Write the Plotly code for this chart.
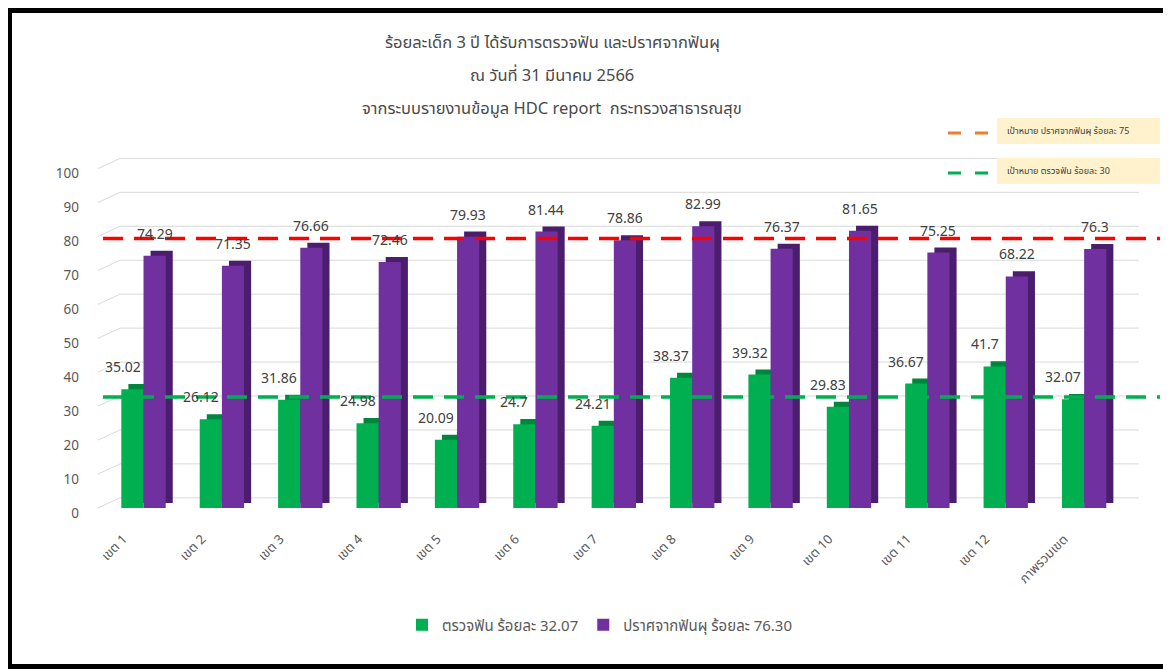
import plotly.graph_objects as go

# ---- data ----
zones = ["เขต 1", "เขต 2", "เขต 3", "เขต 4", "เขต 5", "เขต 6", "เขต 7",
         "เขต 8", "เขต 9", "เขต 10", "เขต 11", "เขต 12", "ภาพรวมเขต"]
checked = [35.02, 26.12, 31.86, 24.98, 20.09, 24.7, 24.21,
           38.37, 39.32, 29.83, 36.67, 41.7, 32.07]
caries_free = [74.29, 71.35, 76.66, 72.46, 79.93, 81.44, 78.86,
               82.99, 76.37, 81.65, 75.25, 68.22, 76.3]
checked_name = "ตรวจฟัน ร้อยละ 32.07"
caries_free_name = "ปราศจากฟันผุ ร้อยละ 76.30"
target_lines = [79.4, 32.7]          # dashed lines as drawn on the chart
target_labels = ["เป้าหมาย ปราศจากฟันผุ ร้อยละ 75", "เป้าหมาย ตรวจฟัน ร้อยละ 30"]
y_ticks = list(range(0, 101, 10))
title_lines = ["ร้อยละเด็ก 3 ปี ได้รับการตรวจฟัน และปราศจากฟันผุ",
               "ณ วันที่ 31 มีนาคม 2566",
               "จากระบบรายงานข้อมูล HDC report  กระทรวงสาธารณสุข"]

# ---- look ----
OFF = 8                       # page body margin
W, H = 1171 - OFF, 669 - OFF
L, R, T, B = 112, 32, 147, 161
PW, PH = W - L - R, H - T - B
YMAX = 104
FONT = "Noto Sans Thai, Tahoma, Loma, Garuda, Noto Sans, sans-serif"
GREEN, GREEN_D = "#00B050", "#00853D"
PURPLE, PURPLE_D = "#7030A0", "#4A1E6C"
TXT = "#595959"
BW = 0.283      # bar width in category units
DX = 0.09       # 3d depth to the right
DY = 1.5        # 3d depth upwards (data units)
BACK = 3        # back wall grid shift (data units)


# screen pixel (as in the 1171x669 window) -> paper coords
def px(p):
    return (p - OFF - L) / PW


def py(p):
    return (H - B - (p - OFF)) / PH


fig = go.Figure()
# depth face first, then front face, per series
for vals, off, col, dcol, name in [(checked, -BW, GREEN, GREEN_D, checked_name),
                                   (caries_free, 0, PURPLE, PURPLE_D, caries_free_name)]:
    fig.add_trace(go.Bar(x=zones, y=vals, base=DY, width=BW, offset=off + DX,
                         marker=dict(color=dcol, line=dict(width=0)),
                         showlegend=False, hoverinfo="skip"))
    fig.add_trace(go.Bar(x=zones, y=vals, width=BW, offset=off,
                         marker=dict(color=col, line=dict(width=0)), name=name))

shapes = []
# back-wall gridlines + left-wall diagonals
for v in y_ticks:
    shapes.append(dict(type="line", xref="paper", yref="paper", x0=0, x1=1,
                       y0=(v + BACK) / YMAX, y1=(v + BACK) / YMAX,
                       line=dict(color="#D9D9D9", width=1), layer="below"))
    shapes.append(dict(type="line", xref="paper", yref="paper", x0=px(98), x1=0,
                       y0=v / YMAX, y1=(v + BACK) / YMAX,
                       line=dict(color="#D9D9D9", width=1), layer="below"))

# target dashed lines
for v, col in zip(target_lines, ["#FF0000", GREEN]):
    shapes.append(dict(type="line", xref="paper", yref="paper", x0=px(103), x1=px(1160),
                       y0=v / YMAX, y1=v / YMAX,
                       line=dict(color=col, width=3.5, dash="20px,11px")))

# target legend boxes
for i, (lab, col) in enumerate(zip(target_labels, ["#ED7D31", GREEN])):
    top = 118 + i * 40
    shapes.append(dict(type="rect", xref="paper", yref="paper",
                       x0=px(997), x1=px(1160), y0=py(top), y1=py(top + 26),
                       fillcolor="#FFF2CC", line=dict(width=0)))
    shapes.append(dict(type="line", xref="paper", yref="paper",
                       x0=px(948), x1=px(988), y0=py(top + 15), y1=py(top + 15),
                       line=dict(color=col, width=3, dash="13px,14px")))

# outer frame
shapes += [
    dict(type="rect", xref="paper", yref="paper", x0=px(4), x1=px(1168), y0=py(5), y1=py(13),
         fillcolor="black", line=dict(width=0)),
    dict(type="rect", xref="paper", yref="paper", x0=px(4), x1=px(12), y0=py(5), y1=py(669),
         fillcolor="black", line=dict(width=0)),
    dict(type="rect", xref="paper", yref="paper", x0=px(4), x1=px(1168), y0=py(664), y1=py(669),
         fillcolor="black", line=dict(width=0)),
    dict(type="line", xref="paper", yref="paper", x0=px(1167), x1=px(1167), y0=py(5), y1=py(669),
         line=dict(color="#9A9A9A", width=1.5)),
]

annotations = []
for i, t in enumerate(title_lines):
    annotations.append(dict(text=t, xref="paper", yref="paper", x=px(552), y=py(42 + i * 33),
                            xanchor="center", yanchor="middle", showarrow=False,
                            font=dict(family=FONT, size=16.5, color="#4A4A4A")))
for i, lab in enumerate(target_labels):
    annotations.append(dict(text=lab, xref="paper", yref="paper", x=px(1005), y=py(131 + i * 40),
                            xanchor="left", yanchor="middle", showarrow=False,
                            font=dict(family=FONT, size=9, color="#404040")))
# data labels
for z, g, p in zip(zones, checked, caries_free):
    annotations.append(dict(text=f"{g:g}", x=z, y=g, xref="x", yref="y", xshift=-21, yshift=9,
                            yanchor="bottom", showarrow=False,
                            font=dict(family=FONT, size=14, color="#404040")))
    annotations.append(dict(text=f"{p:g}", x=z, y=p, xref="x", yref="y", xshift=11, yshift=9,
                            yanchor="bottom", showarrow=False,
                            font=dict(family=FONT, size=14, color="#404040")))

fig.update_layout(
    width=W, height=H,
    margin=dict(l=L, r=R, t=T, b=B),
    paper_bgcolor="white", plot_bgcolor="white",
    barmode="overlay",
    shapes=shapes, annotations=annotations,
    font=dict(family=FONT, color=TXT),
    xaxis=dict(range=[-0.3, 12.7], tickangle=-45, showgrid=False, showline=False,
               ticks="", ticklabelstandoff=20, ticklabelshift=-20,
               tickfont=dict(size=13, color=TXT)),
    yaxis=dict(range=[0, YMAX], tickvals=y_ticks, showgrid=False, zeroline=False,
               showline=False, ticks="", ticklabelstandoff=40, ticklabelshift=5,
               tickfont=dict(size=13.5, color=TXT)),
    legend=dict(orientation="h", x=px(600), xanchor="center", y=py(625), yanchor="middle",
                font=dict(family=FONT, size=15, color=TXT), itemwidth=30,
                traceorder="normal"),
    showlegend=True,
)

fig.write_html("out.html")
